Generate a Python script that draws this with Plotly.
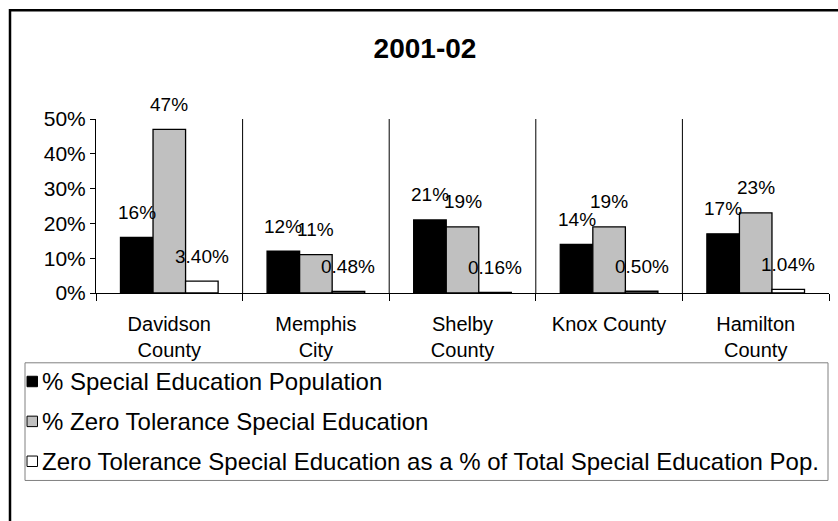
import plotly.graph_objects as go

# Districts and the three percentage series (fractions of 1)
districts = ["Davidson<br>County", "Memphis<br>City", "Shelby<br>County", "Knox County", "Hamilton<br>County"]
special_ed_pct = [0.16, 0.12, 0.21, 0.14, 0.17]
zero_tol_special_ed_pct = [0.47, 0.11, 0.19, 0.19, 0.23]
zero_tol_share_of_special_ed = [0.0340, 0.0048, 0.0016, 0.0050, 0.0104]

series_names = [
    "% Special Education Population",
    "% Zero Tolerance Special Education",
    "Zero Tolerance Special Education as a % of Total Special Education Pop.",
]
series_values = [special_ed_pct, zero_tol_special_ed_pct, zero_tol_share_of_special_ed]
series_colors = ["#000000", "#C0C0C0", "#FFFFFF"]
label_formats = [".0%", ".0%", ".2%"]
y_tick_values = [0, 0.1, 0.2, 0.3, 0.4, 0.5]

FONT = "Liberation Sans, Arial, Helvetica, sans-serif"
W, H = 838, 521
M_L, M_R, M_T, M_B = 96, 9, 118.5, 228
plot_w = W - M_L - M_R
plot_h = H - M_T - M_B


def paper_x(px):
    return (px - M_L) / plot_w


def paper_y(py):
    return 1 - (py - M_T) / plot_h


positions = list(range(len(districts)))
bar_w = 0.222  # three bars fill two thirds of each category slot
boundaries = [p - 0.5 for p in positions] + [positions[-1] + 0.5]

fig = go.Figure()
for k, (name, vals, color, fmt) in enumerate(zip(series_names, series_values, series_colors, label_formats)):
    off = -1.5 * bar_w + k * bar_w
    fig.add_trace(go.Bar(
        x=positions, y=vals, width=bar_w, offset=off, name=name,
        marker=dict(color=color, line=dict(color="black", width=1.3)),
        showlegend=False,
    ))
    for i, v in enumerate(vals):
        fig.add_annotation(
            x=positions[i] + off + bar_w / 2, y=v, xref="x", yref="y",
            text=format(v, fmt), showarrow=False, yanchor="middle", yshift=25,
            font=dict(family=FONT, size=19, color="black"),
        )

# vertical dividers between districts
for b in boundaries[1:-1]:
    fig.add_shape(type="line", xref="x", yref="paper", x0=b, x1=b, y0=0, y1=1,
                  line=dict(color="black", width=1))

# outer chart frame (left and top edges visible)
fig.add_shape(type="rect", xref="paper", yref="paper",
              x0=paper_x(10), x1=paper_x(W + 20), y0=paper_y(9.5), y1=paper_y(H + 20),
              line=dict(color="black", width=2.5), layer="above")

# legend box drawn beneath the axis labels
leg_top, leg_bot, leg_left, leg_right = 363, 481, 25, 828
fig.add_shape(type="rect", xref="paper", yref="paper",
              x0=paper_x(leg_left), x1=paper_x(leg_right), y0=paper_y(leg_top), y1=paper_y(leg_bot),
              line=dict(color="#808080", width=1))
row_centers = [382, 422, 462]
for name, color, cy in zip(series_names, series_colors, row_centers):
    fig.add_shape(type="rect", xref="paper", yref="paper",
                  x0=paper_x(27), x1=paper_x(37.5), y0=paper_y(cy - 5.5), y1=paper_y(cy + 5),
                  fillcolor=color, line=dict(color="black", width=1))
    fig.add_annotation(xref="paper", yref="paper", x=paper_x(39.5), y=paper_y(cy),
                       xanchor="left", yanchor="middle", text=name, showarrow=False,
                       font=dict(family=FONT, size=24, color="black"))

fig.update_layout(
    width=W, height=H,
    margin=dict(l=M_L, r=M_R, t=M_T, b=M_B, pad=0),
    paper_bgcolor="white", plot_bgcolor="white",
    barmode="overlay",
    title=dict(text="<b>2001-02</b>", x=425 / W, xanchor="center",
               y=1 - 48 / H, yanchor="middle",
               font=dict(family=FONT, size=28, color="black")),
    font=dict(family=FONT, color="black"),
)
fig.update_xaxes(
    range=[boundaries[0], boundaries[-1]],
    tickmode="array", tickvals=positions, ticktext=districts,
    ticks="", ticklabelstandoff=13,
    tickfont=dict(family=FONT, size=20, color="black"),
    showline=True, linecolor="black", linewidth=1,
    showgrid=False, zeroline=False,
    minor=dict(tickmode="array", tickvals=boundaries, ticks="outside", ticklen=7,
               tickcolor="black", tickwidth=1, showgrid=False),
)
fig.update_yaxes(
    range=[0, 0.5], tickmode="array", tickvals=y_tick_values, tickformat=".0%",
    ticks="outside", ticklen=5, tickcolor="black", tickwidth=1,
    tickfont=dict(family=FONT, size=21, color="black"),
    showline=True, linecolor="black", linewidth=1,
    showgrid=False, zeroline=False,
)

fig.write_html("out.html")
